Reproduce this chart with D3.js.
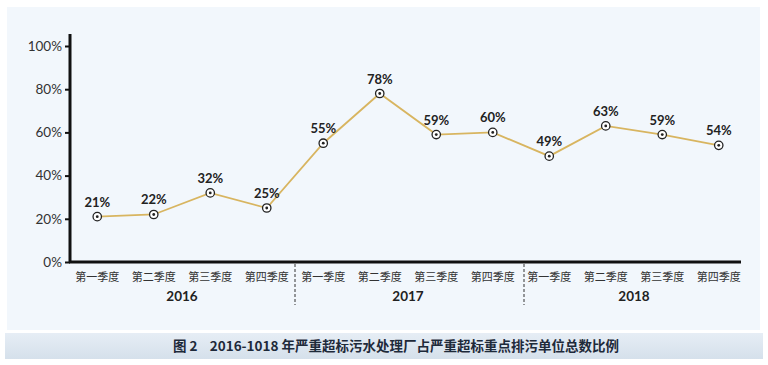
<!DOCTYPE html>
<html><head><meta charset="utf-8">
<script src="https://cdn.jsdelivr.net/npm/d3@7"></script>
<style>body{margin:0;background:#fff;}svg{display:block;}</style>
</head><body>
<script>
const quarters = ["第一季度","第二季度","第三季度","第四季度","第一季度","第二季度","第三季度","第四季度","第一季度","第二季度","第三季度","第四季度"];
const years = ["2016","2017","2018"];
const values = [21,22,32,25,55,78,59,60,49,63,59,54];
const yTicks = [0,20,40,60,80,100];
const caption = "图 2    2016-1018 年严重超标污水处理厂占严重超标重点排污单位总数比例";

const W=768,H=365;
const svg=d3.select("body").append("svg").attr("width",W).attr("height",H);
const defs=svg.append("defs");
const g1=defs.append("linearGradient").attr("id","cap").attr("x1",0).attr("y1",0).attr("x2",0).attr("y2",1);
g1.append("stop").attr("offset","0").attr("stop-color","#e6edf5");
g1.append("stop").attr("offset","1").attr("stop-color","#d5e0eb");

svg.append("rect").attr("x",7).attr("y",7).attr("width",753).attr("height",323).attr("fill","#f2f7fc");
svg.append("rect").attr("x",5).attr("y",333).attr("width",758).attr("height",26).attr("fill","url(#cap)");
svg.append("text").attr("x",396).attr("y",351).attr("text-anchor","middle")
  .attr("font-family","Noto Sans CJK SC").attr("font-weight","bold").attr("font-size",13.5).attr("fill","#1e2a3a")
  .attr("xml:space","preserve").style("white-space","pre").text(caption);

const idx=d3.range(values.length);
const x=d3.scaleBand().domain(idx).range([69,747]);
const y=d3.scaleLinear().domain([0,100]).range([262,46]);
const font="Lato, 'Noto Sans', sans-serif";

// y axis
const ya=svg.append("g").attr("transform","translate(70,0)")
  .call(d3.axisLeft(y).tickValues(yTicks).tickFormat(d=>d+"%").tickSize(5).tickPadding(3));
ya.select(".domain").remove();
ya.selectAll("line").attr("stroke","#111").attr("stroke-width",2);
ya.selectAll("text").attr("font-family",font).attr("font-size",13.5).attr("fill","#333");
svg.append("line").attr("x1",70).attr("x2",70).attr("y1",34).attr("y2",263).attr("stroke","#111").attr("stroke-width",3);
svg.append("line").attr("x1",69).attr("x2",741).attr("y1",262).attr("y2",262).attr("stroke","#111").attr("stroke-width",3);

// x labels
const xa=svg.append("g").attr("transform","translate(0,262)")
  .call(d3.axisBottom(x).tickFormat(i=>quarters[i]).tickSize(0).tickPadding(11));
xa.select(".domain").remove();
xa.selectAll("text").attr("font-family","Noto Sans CJK SC").attr("font-size",11).attr("fill","#333");

years.forEach((yr,k)=>{
  const cx=(x(k*4)+x(k*4+3)+x.bandwidth())/2;
  svg.append("text").attr("x",cx).attr("y",301).attr("text-anchor","middle")
    .attr("font-family",font).attr("font-weight","bold").attr("font-size",13.5).attr("fill","#222").text(yr);
  if(k>0){
    const sx=x(k*4)+(k==2?3:0);
    svg.append("line").attr("x1",sx).attr("x2",sx).attr("y1",264).attr("y2",305)
      .attr("stroke","#333").attr("stroke-width",1).attr("stroke-dasharray","3,2");
  }
});

const cx=i=>x(i)+x.bandwidth()/2;
svg.append("path").datum(values).attr("fill","none").attr("stroke","#d8b560").attr("stroke-width",1.8)
  .attr("d",d3.line().x((d,i)=>cx(i)).y(d=>y(d)));
const pts=svg.append("g").selectAll("g").data(values).join("g")
  .attr("transform",(d,i)=>`translate(${cx(i)},${y(d)})`);
pts.append("circle").attr("r",4.2).attr("fill","#fff").attr("stroke","#222").attr("stroke-width",1.3);
pts.append("circle").attr("r",1.4).attr("fill","#222");
pts.append("text").attr("y",-10).attr("text-anchor","middle").attr("font-family",font)
  .attr("font-weight","bold").attr("font-size",13).attr("fill","#222").text(d=>d+"%");
</script>
</body></html>
